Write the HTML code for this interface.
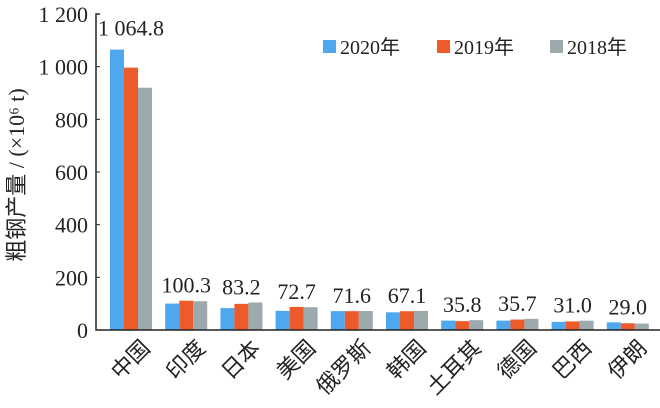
<!DOCTYPE html>
<html><head><meta charset="utf-8"><style>
body{margin:0;background:#fff}
svg text{font-family:"Liberation Serif","Noto Sans CJK SC",serif;fill:#222}
svg text.cjk{font-family:"Liberation Serif","Noto Sans CJK SC",sans-serif}
</style></head><body>
<svg id="c" width="660" height="403"></svg>
<script>
const categories=["中国","印度","日本","美国","俄罗斯","韩国","土耳其","德国","巴西","伊朗"];
const series2020=[1064.8,100.3,83.2,72.7,71.6,67.1,35.8,35.7,31.0,29.0];
const series2019=[996.3,111.2,99.3,87.8,71.6,71.4,33.7,39.6,32.6,25.6];
const series2018=[920.0,109.3,104.3,86.6,72.1,72.5,37.3,42.4,35.4,24.5];
const valueLabels=["1 064.8","100.3","83.2","72.7","71.6","67.1","35.8","35.7","31.0","29.0"];
const yTicks=[0,200,400,600,800,1000,1200];
const yTickLabels=["0","200","400","600","800","1 000","1 200"];
const seriesNames=["2020年","2019年","2018年"];
const colors=["#4fa8ee","#ee5b2b","#9daaad"];
const NS="http://www.w3.org/2000/svg",svg=document.getElementById("c");
const x0=96,y0=330,yTop=14,yMax=1200;
const y=v=>y0-(v/yMax)*(y0-yTop);
const gx=i=>110+i*55.2, bw=14;
function mk(t,a){const e=document.createElementNS(NS,t);for(const k in a)e.setAttribute(k,a[k]);svg.appendChild(e);return e;}
const all=[series2020,series2019,series2018];
all.forEach((s,si)=>s.forEach((v,i)=>{
 const r=mk("rect",{x:gx(i)+si*bw,y:y(v),width:bw,height:y0-y(v),fill:colors[si]});
 
 
}));
const ax=mk("path",{d:`M${x0+4},${yTop} H${x0} V${y0} H660`,stroke:"#222","stroke-width":1.5,fill:"none"});


yTicks.forEach((t,i)=>{
 const tk=mk("line",{x1:x0,x2:x0+4,y1:y(t),y2:y(t),stroke:"#222"});
 
 
 const tx=mk("text",{x:x0-8,y:y(t)+8,"text-anchor":"end","font-size":22});
 tx.textContent=yTickLabels[i];
 
 
});
valueLabels.forEach((l,i)=>{
 const topV=Math.max(series2020[i],series2019[i],series2018[i]);
 const tx=mk("text",{x:gx(i)+21,y:i==0?y(series2020[i])-14:y(topV)-8,"text-anchor":"middle","font-size":22});
 tx.textContent=l;
 
 
});
categories.forEach((c,i)=>{
 const cx=gx(i)+30,cy=y0+8;
 const tx=mk("text",{x:cx,y:cy,"text-anchor":"end","font-size":22,"class":"cjk",transform:`rotate(-45 ${cx} ${cy})`,"dominant-baseline":"hanging"});
 tx.textContent=c;
 
 
});
const yt=mk("text",{x:24,y:175,"text-anchor":"middle","font-size":22,"class":"cjk",transform:"rotate(-90 24 175)"});
yt.textContent="粗钢产量 / (×10⁶ t)";


[323,437,550].forEach((lx,i)=>{
 const r=mk("rect",{x:lx,y:40,width:13,height:13,fill:colors[i]});
 
 
 const tx=mk("text",{x:lx+17,y:54,"font-size":20});
 tx.textContent=seriesNames[i];
 
 
});
</script>
</body></html>
